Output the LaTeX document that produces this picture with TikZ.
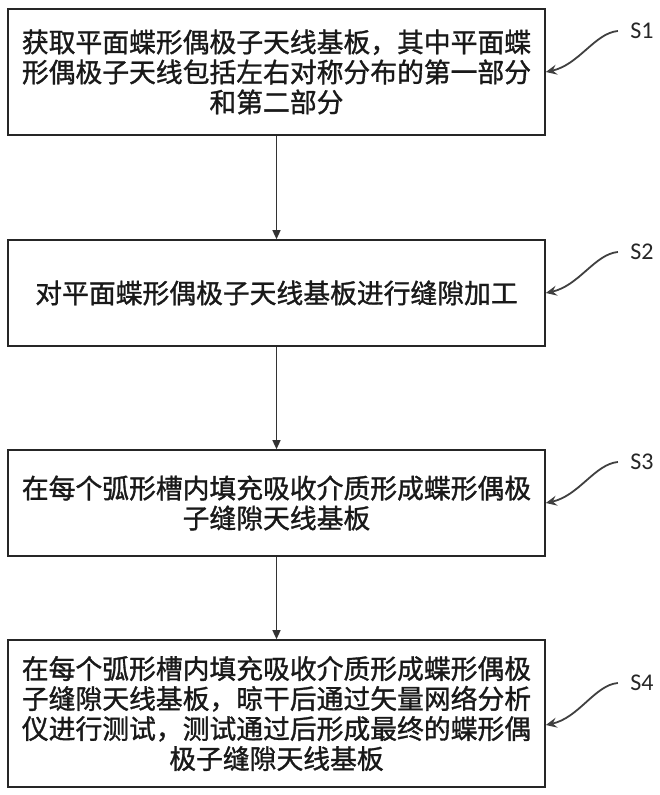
\documentclass[tikz,border=0pt]{standalone}
\usepackage{fontspec}
\newfontfamily\cjk{Noto Sans CJK SC}[FakeBold=1.2]
\newfontfamily\lat{Carlito}
\usetikzlibrary{arrows.meta}
\tikzset{
	stepbox/.style={draw=black!85, line width=1.6pt, align=center, inner sep=0pt,
		minimum width=537, font=\cjk\fontsize{26.8}{30}\selectfont, text=black!90},
	flow/.style={draw=black!80, line width=1.3pt, -{Triangle[length=9pt,width=8pt]}},
	tag/.style={font=\lat\fontsize{24}{24}\selectfont, text=black!85},
	curl/.style={draw=black!75, line width=1.8pt, -{Stealth[length=11pt,width=10pt,inset=4pt]}}
}
\begin{document}
\begin{tikzpicture}[x=1pt, y=-1pt]
			%%%%% START %%%%%
			
			\useasboundingbox (0, 0) rectangle (659, 795);
			
			\node[stepbox, minimum height=126] (b1) at (276.5, 72)
				{获取平面蝶形偶极子天线基板，其中平面蝶\\形偶极子天线包括左右对称分布的第一部分\\和第二部分};
			\node[stepbox, minimum height=106] (b2) at (276.5, 293)
				{对平面蝶形偶极子天线基板进行缝隙加工};
			\node[stepbox, minimum height=106] (b3) at (276.5, 503)
				{在每个弧形槽内填充吸收介质形成蝶形偶极\\子缝隙天线基板};
			\node[stepbox, minimum height=147] (b4) at (276.5, 713.5)
				{在每个弧形槽内填充吸收介质形成蝶形偶极\\子缝隙天线基板，晾干后通过矢量网络分析\\仪进行测试，测试通过后形成最终的蝶形偶\\极子缝隙天线基板};
			
			\draw[flow] (b1) -- (b2);
			\draw[flow] (b2) -- (b3);
			\draw[flow] (b3) -- (b4);
			
			\node[tag] (s1) at (642, 31) {S1};
			\node[tag] (s2) at (642, 252) {S2};
			\node[tag] (s3) at (642, 462) {S3};
			\node[tag] (s4) at (642, 683) {S4};
			
			\coordinate (t1) at (b1.east);
			\coordinate (t2) at (b2.east);
			\coordinate (t3) at (b3.east);
			\coordinate (t4) at ([yshift=-11.5]b4.east);
			
			\draw[curl] ([xshift=-9]s1.west) .. controls +(-23, 2) and +(33, -7) .. (t1);
			\draw[curl] ([xshift=-9]s2.west) .. controls +(-23, 2) and +(33, -7) .. (t2);
			\draw[curl] ([xshift=-9]s3.west) .. controls +(-23, 2) and +(33, -7) .. (t3);
			\draw[curl] ([xshift=-9]s4.west) .. controls +(-23, 2) and +(33, -7) .. (t4);
			
			%%%%% END %%%%%
		\end{tikzpicture}
\end{document}
